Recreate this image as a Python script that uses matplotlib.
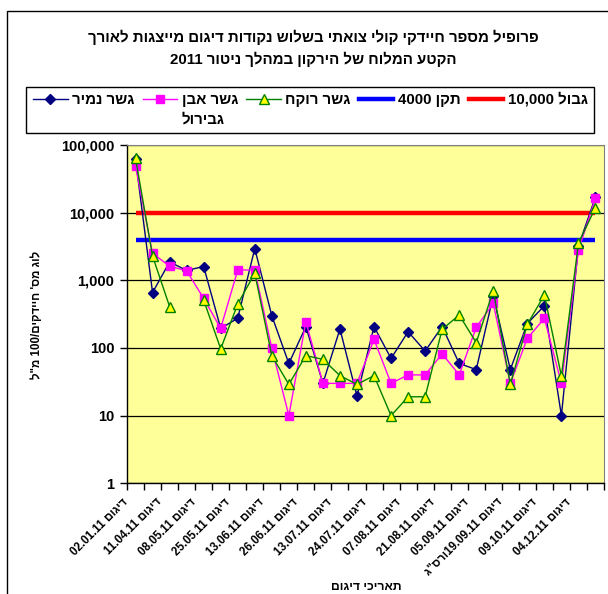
import re

import matplotlib
matplotlib.use("Agg")
import matplotlib.pyplot as plt
import matplotlib.transforms as mtransforms
from matplotlib.lines import Line2D
from matplotlib.patches import Rectangle
from matplotlib.ticker import FixedLocator, FuncFormatter, NullLocator
import numpy as np

FAMILY = ["Liberation Sans", "DejaVu Sans"]
plt.rcParams["font.family"] = FAMILY
plt.rcParams["font.weight"] = "bold"


def rtl(s):
    # matplotlib has no bidi: flip the Hebrew, keep number runs left-to-right
    return re.sub(r"[0-9][0-9.,]*[0-9]|[0-9]", lambda m: m.group(0)[::-1], s[::-1])


# --- data: faecal coliforms per 100 ml, 28 sampling rounds ---
namir = [62000, 660, 1870, 1400, 1600, 195, 275, 2950, 300, 59, 207, 30, 191, 19.5,
         207, 70, 174, 90, 207, 59, 48, 590, 48, 230, 420, 10, 3200, 17000]
even_gvirol = [49000, 2500, 1620, 1380, 540, 195, 1420, 1420, 99, 10, 245, 30, 30, 30,
               134, 30, 40, 40, 82, 40, 202, 457, 30, 139, 274, 30, 2800, 16300]
rokach = [64000, 2280, 410, np.nan, 512, 97, 447, 1270, 77, 29, 77, 68, 39, 29,
          39, 10, 19, 19, 189, 307, 120, 703, 29, 224, 607, 38.5, 3520, 11900]
standard = 4000
limit = 10000

sample_dates = ["02.01.11", "11.04.11", "08.05.11", "25.05.11", "13.06.11", "26.06.11",
                "13.07.11", "24.07.11", "07.08.11", "21.08.11", "05.09.11",
                "19.09.11ורס\"ג", "09.10.11", "04.12.11"]
yticks = [1, 10, 100, 1000, 10000, 100000]

title = ["פרופיל מספר חיידקי קולי צואתי בשלוש נקודות דיגום מייצגות לאורך",
         "הקטע המלוח של הירקון במהלך ניטור 2011"]

W, H = 608, 594
fig = plt.figure(figsize=(W / 100, H / 100), dpi=100)
L, R, T, B = 127, 604, 145, 483.3
ax = fig.add_axes([L / W, 1 - B / H, (R - L) / W, (B - T) / H])
ax.set_facecolor("#FFFF99")

x = np.arange(len(namir))
ax.hlines(limit, x[0], x[-1], color="#FF0000", lw=3.2, zorder=2)
ax.hlines(standard, x[0], x[-1], color="#0000FF", lw=3.2, zorder=2)
ax.plot(x, namir, color="#000080", lw=1, marker="D", ms=5.6, mfc="#000080", mec="#000080", zorder=3)
ax.plot(x, even_gvirol, color="#FF00FF", lw=1, marker="s", ms=5.5, mfc="#FF00FF", mec="#FF00FF", zorder=4)
ax.plot(x, rokach, color="#008000", lw=1, marker="^", ms=6.5, mfc="#FFFF00", mec="#008000", mew=1, zorder=5)

ax.set_yscale("log")
ax.set_ylim(1, 100000)
ax.set_xlim(-0.5, len(namir) - 0.5)
ax.yaxis.set_major_locator(FixedLocator(yticks))
ax.yaxis.set_minor_locator(NullLocator())
ax.yaxis.set_major_formatter(FuncFormatter(lambda v, p: f"{v:,.0f}"))
ax.tick_params(axis="y", which="major", length=5, width=1, pad=4, labelsize=10.5)
ax.grid(axis="y", color="black", lw=0.9, zorder=1)

# boundary ticks between rounds, labels on every other round
ax.xaxis.set_major_locator(FixedLocator(np.arange(-0.5, len(namir), 1)))
ax.xaxis.set_major_formatter(FuncFormatter(lambda v, p: ""))
ax.set_xticks(x[::2], [rtl("דיגום " + d) for d in sample_dates], minor=True)
ax.tick_params(axis="x", which="major", length=5, width=1)
ax.tick_params(axis="x", which="minor", length=0, pad=0, labelsize=8.3)
shift = mtransforms.ScaledTranslation(-9.5 / 100, -17 / 100, fig.dpi_scale_trans)
for lab in ax.get_xticklabels(minor=True):
    lab.set_rotation(45)
    lab.set_rotation_mode("anchor")
    lab.set_ha("right")
    lab.set_va("center")
    lab.set_transform(lab.get_transform() + shift)

for s in ("top", "right"):
    ax.spines[s].set_color("#808080")
for s in ("left", "bottom"):
    ax.spines[s].set_color("black")
    ax.spines[s].set_linewidth(1)

# titles
fig.text(313 / W, 1 - 37 / H, rtl(title[0]), ha="center", va="center", fontsize=10.8)
fig.text(313 / W, 1 - 59 / H, rtl(title[1]), ha="center", va="center", fontsize=10.8)
fig.text(37 / W, 1 - 315 / H, rtl("לוג מס' חיידקים/100 מ\"ל"), rotation=90,
         ha="center", va="center", fontsize=8.3)
fig.text(366 / W, 1 - 587 / H, rtl("תאריכי דיגום"), ha="center", va="center", fontsize=8.8)

# legend
handles = [
    Line2D([], [], color="#000080", lw=1, marker="D", ms=5.6, mfc="#000080"),
    Line2D([], [], color="#FF00FF", lw=1, marker="s", ms=5.5, mfc="#FF00FF"),
    Line2D([], [], color="#008000", lw=1, marker="^", ms=6.5, mfc="#FFFF00", mec="#008000"),
    Line2D([], [], color="#0000FF", lw=3.2),
    Line2D([], [], color="#FF0000", lw=3.2),
]
labels = [rtl("גשר נמיר"), rtl("גשר אבן"), rtl("גשר רוקח"), rtl("תקן 4000"), rtl("גבול 10,000")]
leg = fig.legend(handles, labels, ncol=5, loc="center left", bbox_to_anchor=(33 / W, 1 - 99.5 / H),
                 frameon=False, borderpad=0, borderaxespad=0, handlelength=2.3,
                 handletextpad=0.3, columnspacing=0.55,
                 prop={"family": FAMILY, "weight": "bold", "size": 10.8})
fig.add_artist(Rectangle((26 / W, 1 - 133 / H), 568 / W, 46 / H, transform=fig.transFigure,
                         fill=False, ec="black", lw=1))
fig.canvas.draw()
bb = leg.get_texts()[1].get_window_extent()
fig.text(bb.x0 / W, 1 - 119 / H, rtl("גבירול"), ha="left", va="center", fontsize=10.8)

# chart area border
fig.add_artist(Rectangle((7 / W, -0.1), 1.2, 1.1 - 10.5 / H, transform=fig.transFigure,
                         fill=False, ec="black", lw=1, clip_on=False))

fig.savefig("out.png", dpi=100)
